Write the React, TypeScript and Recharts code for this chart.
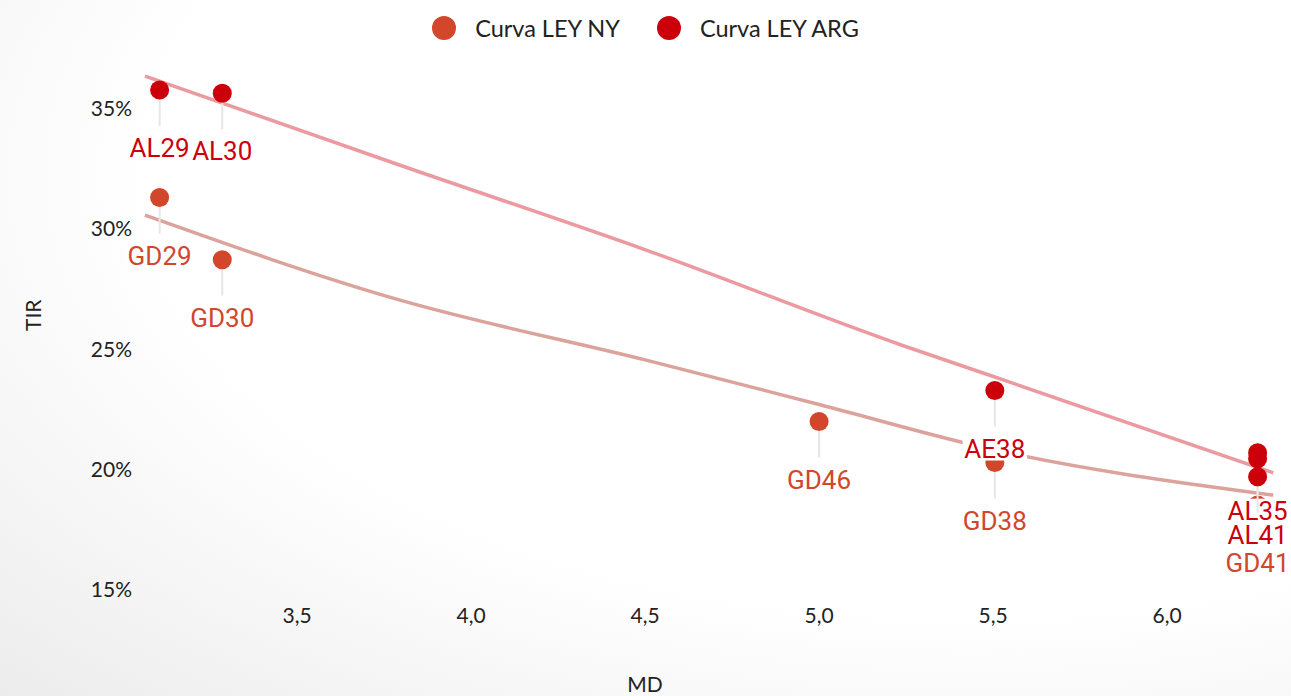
import React from 'react'
import { ScatterChart, Scatter, XAxis, YAxis } from 'recharts'

// bonds: modified duration (MD) vs yield (TIR)
const nyNames = ['GD29', 'GD30', 'GD46', 'GD38', 'GD41']
const nyMD = [3.105, 3.285, 5.0, 5.505, 6.26]
const nyTIR = [31.29, 28.71, 21.99, 20.29, 18.53]

const argNames = ['AL29', 'AL30', 'AE38', 'AL35', '', 'AL41']
const argMD = [3.105, 3.285, 5.505, 6.26, 6.26, 6.26]
const argTIR = [35.75, 35.62, 23.28, 20.7, 20.45, 19.7]

// fitted curves
const nyTrendMD = [3.063, 3.796, 4.503, 5.0, 5.505, 6.305]
const nyTrendTIR = [30.56, 27.03, 24.54, 22.7, 20.81, 18.94]
const argTrendMD = [3.063, 3.796, 4.503, 5.236, 5.505, 6.305]
const argTrendTIR = [36.33, 32.63, 29.11, 25.17, 23.84, 19.86]

const xTicks = [3.5, 4.0, 4.5, 5.0, 5.5, 6.0]
const yTicks = [15, 20, 25, 30, 35]

const NY_COLOR = '#d2462c'
const ARG_COLOR = '#cc000a'
const NY_LINE = '#dba39b'
const ARG_LINE = '#eb9aa0'

const toRows = (names: string[], md: number[], tir: number[]) =>
  md.map((m, i) => ({ name: names[i], md: m, tir: tir[i] }))

const nyData = toRows(nyNames, nyMD, nyTIR)
const argData = toRows(argNames, argMD, argTIR)
const nyTrend = toRows([], nyTrendMD, nyTrendTIR)
const argTrend = toRows([], argTrendMD, argTrendTIR)

const LABEL_SIZE = 26

const makeDot = (color: string) => (props: any) => {
  const { cx, cy, payload } = props
  const w = payload.name ? payload.name.length * LABEL_SIZE * 0.6 + 2 : 0
  return (
    <g>
      <line x1={cx} y1={cy} x2={cx} y2={cy + 36} stroke="#e6e6e6" strokeWidth={2} />
      <circle cx={cx} cy={cy} r={9.5} fill={color} />
      {payload.name ? (
        <g>
          <rect x={cx - w / 2} y={cy + 46} width={w} height={24} fill="#fff" />
          <text x={cx} y={cy + 58} textAnchor="middle" dominantBaseline="central"
            fill={color} fontSize={LABEL_SIZE} fontFamily="Roboto">{payload.name}</text>
        </g>
      ) : null}
    </g>
  )
}

const tickFont = { fill: '#222', fontSize: 21, fontFamily: 'Lato' }

export default function App() {
  return (
    <div style={{
      position: 'absolute', left: 0, top: 0, width: 1291, height: 696,
      background: 'radial-gradient(ellipse at 75% 25%, #ffffff 60%, #ececec 100%)',
    }}>
      <div style={{
        position: 'absolute', top: 14, left: 0, width: 1291, display: 'flex',
        justifyContent: 'center', alignItems: 'center', fontFamily: 'Lato', fontSize: 23.5, color: '#222',
      }}>
        <span style={{ width: 24, height: 24, borderRadius: 12, background: NY_COLOR, marginRight: 19 }} />
        <span style={{ marginRight: 37 }}>Curva LEY NY</span>
        <span style={{ width: 24, height: 24, borderRadius: 12, background: ARG_COLOR, marginRight: 19 }} />
        <span>Curva LEY ARG</span>
      </div>
      <ScatterChart width={1291} height={696} margin={{ top: 72, right: 16, bottom: 0, left: 0 }}>
        <XAxis type="number" dataKey="md" domain={[3.063, 6.31]} ticks={xTicks}
          axisLine={false} tickLine={false} tickSize={0} tickMargin={18} height={106}
          tick={tickFont} tickFormatter={(v: number) => v.toFixed(1).replace('.', ',')}
          label={{ value: 'MD', position: 'insideBottom', offset: 4, dx: -65, fill: '#222', fontSize: 21, fontFamily: 'Lato' }} />
        <YAxis type="number" dataKey="tir" domain={[15, 36.5]} ticks={yTicks}
          axisLine={false} tickLine={false} tickSize={0} tickMargin={13} width={145}
          tick={tickFont} tickFormatter={(v: number) => `${v}%`}
          label={{ value: 'TIR', angle: -90, position: 'insideLeft', offset: 34, fill: '#222', fontSize: 21, fontFamily: 'Lato' }} />
        <Scatter data={nyTrend} line={{ stroke: NY_LINE, strokeWidth: 3.5 }} lineJointType="monotoneX"
          shape={() => <g />} isAnimationActive={false} />
        <Scatter data={argTrend} line={{ stroke: ARG_LINE, strokeWidth: 3.5 }} lineJointType="monotoneX"
          shape={() => <g />} isAnimationActive={false} />
        <Scatter name="Curva LEY NY" data={nyData} shape={makeDot(NY_COLOR)} isAnimationActive={false} />
        <Scatter name="Curva LEY ARG" data={argData} shape={makeDot(ARG_COLOR)} isAnimationActive={false} />
      </ScatterChart>
    </div>
  )
}
